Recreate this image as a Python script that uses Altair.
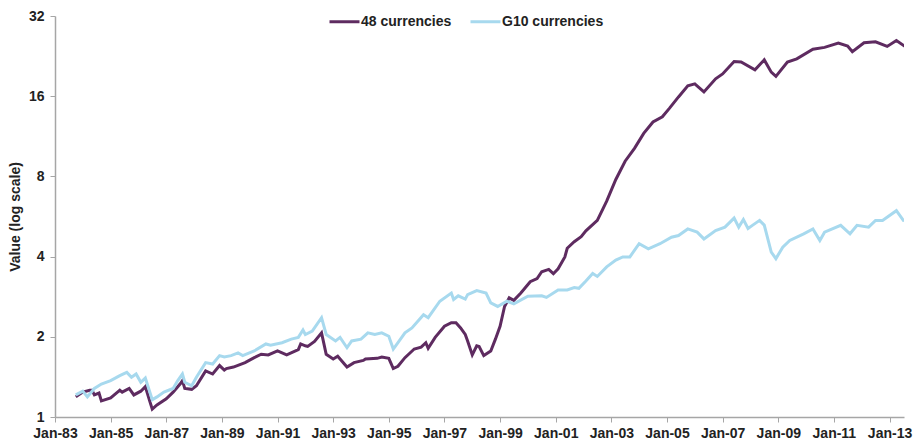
import altair as alt
import pandas as pd

series_names = ["48 currencies", "G10 currencies"]
colors = ["#5E2B60", "#A7D9EE"]

dates_48 = ["1983-10","1984-01","1984-04","1984-05","1984-06","1984-08","1984-09","1985-01","1985-04","1985-05",
            "1985-06","1985-09","1985-11","1986-02","1986-04","1986-06","1986-07","1986-09","1987-01","1987-04",
            "1987-07","1987-08","1987-09","1987-12","1988-02","1988-06","1988-09","1988-12","1989-02","1989-03",
            "1989-06","1989-11","1990-03","1990-06","1990-09","1991-01","1991-05","1991-10","1991-11","1992-01",
            "1992-02","1992-05","1992-08","1992-10","1993-01","1993-03","1993-07","1993-10","1994-02","1994-03",
            "1994-08","1994-10","1995-01","1995-03","1995-05","1995-08","1995-12","1996-03","1996-05","1996-06",
            "1996-09","1997-01","1997-04","1997-06","1997-08","1997-10","1997-11","1998-01","1998-03","1998-04",
            "1998-06","1998-09","1998-11","1999-01","1999-03","1999-05","1999-07","1999-10","2000-02","2000-05",
            "2000-07","2000-10","2000-12","2001-02","2001-05","2001-06","2001-09","2001-12","2002-02","2002-07",
            "2002-11","2003-03","2003-07","2003-11","2004-03","2004-07","2004-11","2005-02","2005-06","2005-10",
            "2006-01","2006-05","2006-10","2007-01","2007-06","2007-09","2008-03","2008-07","2008-10","2008-12",
            "2009-05","2009-09","2010-04","2010-09","2011-03","2011-07","2011-09","2012-02","2012-07","2012-12",
            "2013-04","2013-08","2013-10"]
values_48 = [1.19,1.24,1.26,1.26,1.21,1.23,1.15,1.18,1.24,1.26,
             1.24,1.28,1.21,1.25,1.30,1.14,1.07,1.11,1.17,1.24,
             1.33,1.37,1.28,1.27,1.31,1.49,1.45,1.56,1.50,1.52,
             1.54,1.60,1.67,1.72,1.71,1.77,1.71,1.79,1.88,1.85,
             1.84,1.92,2.07,1.72,1.65,1.69,1.54,1.60,1.63,1.65,
             1.66,1.68,1.66,1.52,1.55,1.67,1.80,1.83,1.90,1.81,
             1.99,2.19,2.26,2.26,2.16,2.04,1.93,1.71,1.85,1.84,
             1.70,1.77,1.96,2.19,2.60,2.80,2.74,2.92,3.22,3.31,
             3.51,3.58,3.45,3.60,3.99,4.30,4.55,4.75,5.00,5.47,
             6.46,7.79,9.12,10.2,11.6,12.8,13.4,14.4,15.9,17.5,
             17.8,16.6,18.6,19.4,21.6,21.5,20.1,21.9,19.7,19.0,
             21.5,22.1,24.0,24.4,25.3,24.7,23.5,25.4,25.6,24.6,
             25.9,24.5,24.8]

dates_g10 = ["1983-10","1984-01","1984-03","1984-06","1984-09","1985-01","1985-05","1985-08","1985-10","1985-12",
             "1986-02","1986-04","1986-07","1986-09","1986-12","1987-04","1987-06","1987-08","1987-09","1987-12",
             "1988-02","1988-06","1988-09","1988-12","1989-02","1989-05","1989-08","1989-10","1990-03","1990-08",
             "1990-10","1991-03","1991-07","1991-10","1991-12","1992-01","1992-04","1992-08","1992-10","1993-02",
             "1993-04","1993-07","1993-09","1994-01","1994-04","1994-07","1994-10","1995-01","1995-03","1995-04",
             "1995-08","1995-11","1996-04","1996-06","1996-11","1997-04","1997-05","1997-07","1997-10","1997-11",
             "1998-03","1998-07","1998-09","1998-12","1999-04","1999-07","2000-01","2000-07","2000-09","2001-02",
             "2001-06","2001-09","2001-11","2002-02","2002-05","2002-07","2002-11","2003-03","2003-06","2003-09",
             "2004-01","2004-05","2004-10","2005-03","2005-06","2005-10","2006-02","2006-05","2006-10","2007-02",
             "2007-06","2007-08","2007-10","2007-12","2008-02","2008-05","2008-07","2008-10","2008-12","2009-03",
             "2009-06","2009-12","2010-04","2010-07","2010-09","2011-04","2011-08","2011-11","2012-04","2012-07",
             "2012-10","2013-04","2013-07","2013-10"]
values_g10 = [1.21,1.25,1.19,1.28,1.33,1.37,1.43,1.47,1.41,1.45,
              1.35,1.40,1.16,1.19,1.24,1.28,1.37,1.45,1.35,1.31,
              1.41,1.60,1.58,1.70,1.68,1.70,1.74,1.70,1.77,1.88,
              1.86,1.90,1.96,1.99,2.12,2.04,2.10,2.36,2.04,1.93,
              1.99,1.82,1.93,1.96,2.07,2.04,2.07,2.01,1.80,1.85,
              2.07,2.16,2.42,2.36,2.72,2.92,2.76,2.85,2.77,2.88,
              2.98,2.92,2.68,2.60,2.72,2.66,2.84,2.85,2.81,3.00,
              3.00,3.06,3.04,3.24,3.46,3.37,3.66,3.88,3.99,3.99,
              4.47,4.28,4.47,4.73,4.80,5.08,4.94,4.66,5.01,5.16,
              5.58,5.16,5.51,5.10,5.25,5.47,5.25,4.16,3.93,4.34,
              4.60,4.87,5.08,4.60,4.94,5.24,4.87,5.24,5.16,5.47,
              5.47,5.95,5.47,5.55]

y_ticks = [1, 2, 4, 8, 16, 32]
x_tick_years = list(range(1983, 2014, 2))

df = pd.concat([
    pd.DataFrame({"date": [d + "-01T00:00:00" for d in dates_48], "value": values_48, "series": series_names[0]}),
    pd.DataFrame({"date": [d + "-01T00:00:00" for d in dates_g10], "value": values_g10, "series": series_names[1]}),
])

FONT = "Liberation Sans"

chart = alt.Chart(df).mark_line(strokeWidth=3, interpolate="linear", clip=True).encode(
    x=alt.X("date:T",
            scale=alt.Scale(domain=[alt.DateTime(year=1983, month=1, date=1),
                                    alt.DateTime(year=2013, month=7, date=10)]),
            axis=alt.Axis(title=None, format="%b-%y",
                          values=[alt.DateTime(year=y, month=1, date=1) for y in x_tick_years],
                          grid=False, labelFlush=False, labelOverlap=False, labelPadding=4)),
    y=alt.Y("value:Q",
            scale=alt.Scale(type="log", base=2, domain=[1, 32], nice=False),
            axis=alt.Axis(title="Value (log scale)", values=y_ticks, format="d", grid=False,
                          titlePadding=6, labelPadding=6)),
    color=alt.Color("series:N",
                    scale=alt.Scale(domain=series_names, range=colors),
                    legend=alt.Legend(title=None, orient="none", direction="horizontal",
                                      legendX=273, legendY=-11, symbolType="stroke",
                                      symbolSize=900, symbolStrokeWidth=3, labelOffset=0,
                                      columnPadding=12, labelFontSize=14, labelFont=FONT,
                                      labelFontWeight="bold", labelColor="#222222")),
).properties(
    width=905, height=432,
    autosize=alt.AutoSizeParams(type="fit", contains="padding"),
    padding={"left": 0, "top": 1, "right": 2, "bottom": 0},
).configure_view(stroke=None).configure_axis(
    domainColor="#A6A6A6", tickColor="#A6A6A6", tickSize=5, domainWidth=1.5,
    labelFont=FONT, labelFontSize=14, labelFontWeight="bold", labelColor="#222222",
    titleFont=FONT, titleFontSize=14, titleFontWeight="bold", titleColor="#222222",
)

chart.save("out.html", embed_options={"renderer": "svg", "actions": False})
